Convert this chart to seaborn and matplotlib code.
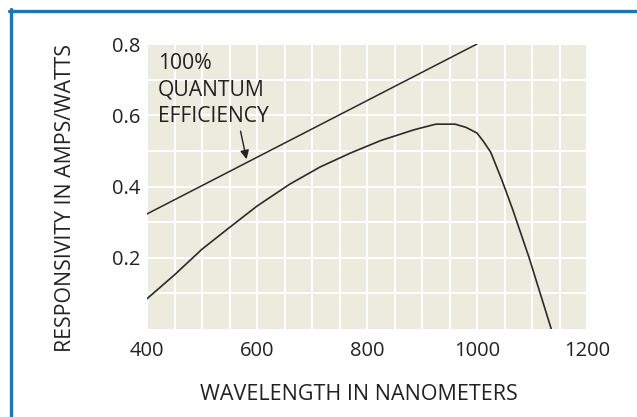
import matplotlib
matplotlib.use("Agg")
import matplotlib.pyplot as plt
import seaborn as sns
import pandas as pd
from matplotlib.lines import Line2D

# ---- data ----
wavelength_nm = [400, 450, 500, 550, 600, 660, 715, 770, 825, 885, 925, 960, 980, 1000, 1012, 1025, 1045, 1065, 1095, 1135]
responsivity = [0.085, 0.152, 0.224, 0.285, 0.345, 0.407, 0.455, 0.494, 0.529, 0.559, 0.575, 0.575, 0.566, 0.550, 0.526, 0.496, 0.419, 0.335, 0.199, 0.0]

qe_wavelength_nm = [400, 1000]
qe_responsivity = [0.323, 0.80]

x_ticks = [400, 600, 800, 1000, 1200]
y_ticks = [0.2, 0.4, 0.6, 0.8]
y_tick_labels = ["0.2", "0.4", "0.6", "0.8"]

# ---- style ----
sns.set_theme(style="darkgrid")
plt.rcParams['font.family'] = ['Open Sans', 'DejaVu Sans']

fig = plt.figure(figsize=(6.37, 4.17), dpi=100)
fig.patch.set_facecolor("white")
ax = fig.add_axes([147 / 637, 88 / 417, 440 / 637, 285 / 417])
ax.set_facecolor("#ECEBDE")

df = pd.DataFrame({"wavelength": wavelength_nm, "responsivity": responsivity})
dq = pd.DataFrame({"wavelength": qe_wavelength_nm, "responsivity": qe_responsivity})

sns.lineplot(data=dq, x="wavelength", y="responsivity", ax=ax, color="#2a2a2a", linewidth=1.1, sort=False)
sns.lineplot(data=df, x="wavelength", y="responsivity", ax=ax, color="#2a2a2a", linewidth=1.2, sort=False)

ax.set_xlim(400, 1200)
ax.set_ylim(0, 0.8)

ax.set_xticks(x_ticks)
ax.set_xticklabels([str(t) for t in x_ticks])
ax.set_yticks(y_ticks)
ax.set_yticklabels(y_tick_labels)
ax.set_xticks([v for v in range(450, 1200, 50)], minor=True)
ax.set_yticks([0.1, 0.3, 0.5, 0.7], minor=True)

ax.grid(True, which="both", color="white", linewidth=1.5)
ax.tick_params(axis="both", which="both", length=0, labelsize=14.5, colors="#222222")
ax.tick_params(axis="x", pad=9)
ax.tick_params(axis="y", pad=5)
for s in ax.spines.values():
    s.set_visible(False)

ax.set_xlabel("WAVELENGTH IN NANOMETERS", fontsize=15.5, color="#222222")
ax.set_ylabel("RESPONSIVITY IN AMPS/WATTS", fontsize=15.3, color="#222222")
ax.xaxis.set_label_coords((359 - 147) / 440, -(384 - 329) / 285)
ax.yaxis.set_label_coords(-(147 - 76) / 440, (329 - 198) / 285)

ax.text(420, 0.774, "100%\nQUANTUM\nEFFICIENCY", fontsize=15.2, color="#222222",
        ha="left", va="top", linespacing=1.32)
ax.annotate("", xy=(582, 0.469), xytext=(569, 0.563),
            arrowprops=dict(arrowstyle="-|>", color="#222222", lw=1.0, mutation_scale=13))

# blue frame lines (top and left)
fig.add_artist(Line2D([9 / 637, 1.0], [1 - 10.5 / 417, 1 - 10.5 / 417], transform=fig.transFigure,
                      color="#0B7CC6", linewidth=2.4))
fig.add_artist(Line2D([10.5 / 637, 10.5 / 637], [0.0, 1 - 9 / 417], transform=fig.transFigure,
                      color="#0B7CC6", linewidth=2.4))

fig.savefig("out.png", dpi=100)
